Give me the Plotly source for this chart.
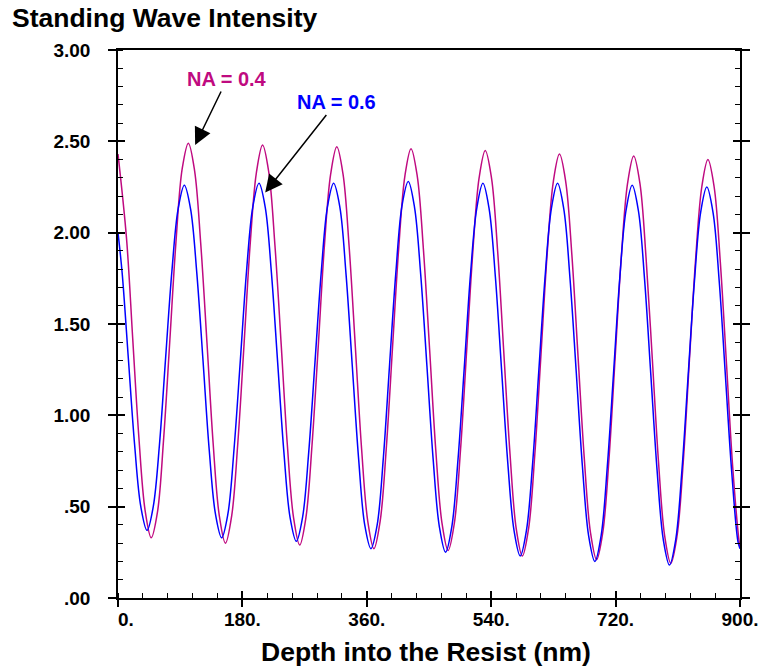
import plotly.graph_objects as go

# ---------------- data ----------------
depth_na04 = [
    0, 12.3, 21.3, 30.2, 39.2, 48.1,
    57.1, 66.0, 75.0, 83.9, 92.9, 101.8,
    110.8, 119.7, 128.7, 137.6, 146.6, 155.5,
    164.5, 173.4, 182.4, 191.3, 200.3, 209.2,
    218.2, 227.1, 236.1, 245.0, 254.0, 262.9,
    271.9, 280.8, 289.8, 298.7, 307.7, 316.6,
    325.6, 334.5, 343.5, 352.4, 361.4, 370.3,
    379.3, 388.2, 397.2, 406.1, 415.1, 424.0,
    433.0, 441.9, 450.9, 459.8, 468.8, 477.7,
    486.7, 495.6, 504.6, 513.5, 522.5, 531.4,
    540.4, 549.3, 558.3, 567.2, 576.2, 585.1,
    594.1, 603.0, 612.0, 620.9, 629.9, 638.8,
    647.8, 656.7, 665.7, 674.6, 683.6, 692.5,
    701.5, 710.4, 719.4, 728.3, 737.3, 746.2,
    755.2, 764.1, 773.1, 782.0, 791.0, 799.9,
    808.9, 817.8, 826.8, 835.7, 844.7, 853.6,
    862.6, 871.5, 880.5, 889.4, 898.4, 900.0,
]
intensity_na04 = [
    2.43, 1.97, 1.42, 0.88, 0.48, 0.33,
    0.47, 0.87, 1.41, 1.95, 2.35, 2.49,
    2.34, 1.94, 1.40, 0.85, 0.45, 0.30,
    0.45, 0.85, 1.39, 1.94, 2.33, 2.48,
    2.33, 1.93, 1.39, 0.84, 0.44, 0.29,
    0.44, 0.84, 1.38, 1.93, 2.32, 2.47,
    2.32, 1.92, 1.37, 0.82, 0.42, 0.27,
    0.42, 0.82, 1.37, 1.91, 2.31, 2.46,
    2.31, 1.91, 1.36, 0.81, 0.41, 0.26,
    0.41, 0.81, 1.36, 1.90, 2.30, 2.45,
    2.30, 1.90, 1.34, 0.79, 0.38, 0.23,
    0.38, 0.78, 1.33, 1.88, 2.28, 2.43,
    2.28, 1.88, 1.32, 0.77, 0.36, 0.21,
    0.36, 0.76, 1.32, 1.87, 2.27, 2.42,
    2.27, 1.86, 1.31, 0.75, 0.34, 0.19,
    0.34, 0.74, 1.30, 1.85, 2.25, 2.40,
    2.25, 1.84, 1.28, 0.72, 0.32, 0.28,
]

depth_na06 = [
    0, 6, 15, 24, 33, 42,
    51, 60, 69, 78, 87, 96,
    105, 114, 123, 132, 141, 150,
    159, 168, 177, 186, 195, 204,
    213, 222, 231, 240, 249, 258,
    267, 276, 285, 294, 303, 312,
    321, 330, 339, 348, 357, 366,
    375, 384, 393, 402, 411, 420,
    429, 438, 447, 456, 465, 474,
    483, 492, 501, 510, 519, 528,
    537, 546, 555, 564, 573, 582,
    591, 600, 609, 618, 627, 636,
    645, 654, 663, 672, 681, 690,
    699, 708, 717, 726, 735, 744,
    753, 762, 771, 780, 789, 798,
    807, 816, 825, 834, 843, 852,
    861, 870, 879, 888, 897, 900,
]
intensity_na06 = [
    2.00, 1.78, 1.31, 0.84, 0.50, 0.37,
    0.50, 0.84, 1.32, 1.79, 2.13, 2.26,
    2.13, 1.78, 1.30, 0.81, 0.46, 0.33,
    0.46, 0.82, 1.30, 1.79, 2.14, 2.27,
    2.14, 1.78, 1.29, 0.80, 0.44, 0.31,
    0.44, 0.80, 1.29, 1.78, 2.14, 2.27,
    2.14, 1.77, 1.27, 0.77, 0.40, 0.27,
    0.40, 0.77, 1.28, 1.78, 2.15, 2.28,
    2.14, 1.77, 1.27, 0.76, 0.39, 0.25,
    0.39, 0.76, 1.26, 1.77, 2.13, 2.27,
    2.13, 1.76, 1.25, 0.74, 0.37, 0.23,
    0.37, 0.74, 1.25, 1.76, 2.13, 2.27,
    2.13, 1.75, 1.24, 0.72, 0.34, 0.20,
    0.34, 0.72, 1.23, 1.75, 2.12, 2.26,
    2.12, 1.74, 1.22, 0.70, 0.32, 0.18,
    0.32, 0.70, 1.22, 1.73, 2.11, 2.25,
    2.11, 1.73, 1.21, 0.69, 0.31, 0.27,
]

x_tick_vals = [0, 180, 360, 540, 720, 900]
x_tick_text = ["\u00a0\u00a0\u00a00.", "180.", "360.", "540.", "720.", "900."]
y_tick_vals = [0, 0.5, 1.0, 1.5, 2.0, 2.5, 3.0]
y_tick_text = [".00", ".50", "1.00", "1.50", "2.00", "2.50", "3.00"]

label_na04 = "NA = 0.4"
label_na06 = "NA = 0.6"
title_text = "Standing Wave Intensity"
x_title = "Depth into the Resist (nm)"

# ---------------- styling ----------------
PINK = "#BF0A80"
BLUE = "#0000FF"
FONT = "Liberation Sans, Arial, sans-serif"
X_RANGE = [0, 900]
Y_RANGE = [0, 3]

fig = go.Figure()
fig.add_trace(go.Scatter(x=depth_na04, y=intensity_na04, mode="lines",
                         line=dict(color=PINK, width=1.5, shape="spline", smoothing=1),
                         name=label_na04, showlegend=False))
fig.add_trace(go.Scatter(x=depth_na06, y=intensity_na06, mode="lines",
                         line=dict(color=BLUE, width=1.5, shape="spline", smoothing=1),
                         name=label_na06, showlegend=False))
# empty trace so the overlay axes (inside halves of major ticks) are drawn
fig.add_trace(go.Scatter(x=[None], y=[None], xaxis="x2", yaxis="y2",
                         showlegend=False, hoverinfo="skip"))

tickfont = dict(family=FONT, size=19, color="black", weight="bold")

fig.update_layout(
    width=761, height=666,
    margin=dict(l=118, r=21, t=50, b=68),
    paper_bgcolor="white", plot_bgcolor="white",
    font=dict(family=FONT, color="black"),
    title=dict(text=title_text, x=12 / 761, xref="container", xanchor="left",
               y=1 - 18 / 666, yref="container", yanchor="middle",
               font=dict(family=FONT, size=26.5, color="black", weight="bold")),
    xaxis=dict(range=X_RANGE, tickvals=x_tick_vals, ticktext=x_tick_text,
               ticks="outside", ticklen=7, tickwidth=1.5, tickcolor="black",
               showline=True, linewidth=1.5, linecolor="black", mirror=True,
               showgrid=False, zeroline=False, tickfont=tickfont,
               ticklabelstandoff=-4, automargin=False,
               minor=dict(ticks="inside", ticklen=5, tickwidth=1.2, tickcolor="black",
                          dtick=36, tick0=0, showgrid=False)),
    yaxis=dict(range=Y_RANGE, tickvals=y_tick_vals, ticktext=y_tick_text,
               ticks="outside", ticklen=8, tickwidth=1.5, tickcolor="black",
               showline=True, linewidth=1.5, linecolor="black", mirror="ticks",
               showgrid=False, zeroline=False, tickfont=tickfont,
               ticklabelstandoff=14, automargin=False,
               minor=dict(ticks="inside", ticklen=5, tickwidth=1.2, tickcolor="black",
                          dtick=0.1, tick0=0, showgrid=False)),
    xaxis2=dict(range=X_RANGE, overlaying="x", anchor="y", side="bottom",
                tickvals=x_tick_vals, ticks="inside", ticklen=7, tickwidth=1.5,
                tickcolor="black", showticklabels=False, showline=False,
                showgrid=False, zeroline=False, automargin=False),
    yaxis2=dict(range=Y_RANGE, overlaying="y", anchor="x", side="left",
                tickvals=y_tick_vals, ticks="inside", ticklen=7, tickwidth=1.5,
                tickcolor="black", showticklabels=False, showline=False,
                mirror="ticks", showgrid=False, zeroline=False, automargin=False),
)

# x-axis title, placed just below the tick labels
fig.add_annotation(x=0.495, y=-0.098, xref="paper", yref="paper", text=x_title,
                   showarrow=False, xanchor="center", yanchor="middle",
                   font=dict(family=FONT, size=26.5, color="black", weight="bold"))

fig.add_annotation(x=111.6, y=2.48, xref="x", yref="y", text=label_na04,
                   showarrow=True, ax=32, ay=-66, arrowhead=2, arrowsize=2.3,
                   arrowwidth=1.5, arrowcolor="black",
                   font=dict(family=FONT, size=20, color=PINK, weight="bold"))
fig.add_annotation(x=213, y=2.22, xref="x", yref="y", text=label_na06,
                   showarrow=True, ax=71, ay=-90, arrowhead=2, arrowsize=2.3,
                   arrowwidth=1.5, arrowcolor="black",
                   font=dict(family=FONT, size=20, color=BLUE, weight="bold"))

fig.write_html("out.html")
